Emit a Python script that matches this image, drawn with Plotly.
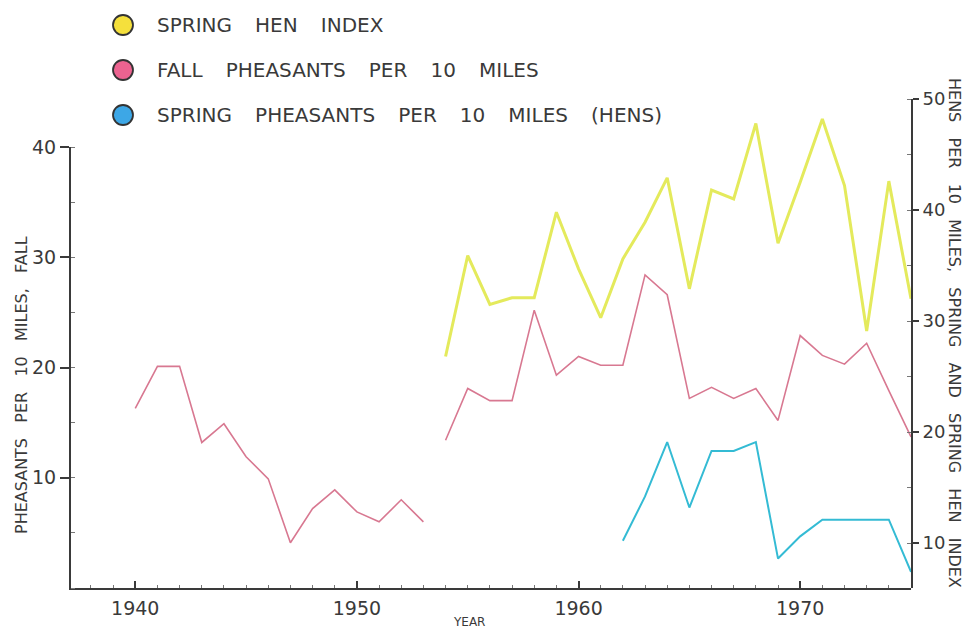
import plotly.graph_objects as go

# ---- data ----
years_fall_early = list(range(1940, 1954))
fall_early = [16.3, 20.1, 20.1, 13.2, 14.9, 11.9, 9.9, 4.1, 7.2, 8.9, 6.9, 6.0, 8.0, 6.0]

years_late = list(range(1954, 1976))
fall_late = [13.4, 18.1, 17.0, 17.0, 25.2, 19.3, 21.0, 20.2, 20.2, 28.4, 26.6,
             17.2, 18.2, 17.2, 18.1, 15.2, 22.9, 21.1, 20.3, 22.2, 17.9, 13.7]
spring_hen_index = [26.8, 35.9, 31.5, 32.1, 32.1, 39.8, 34.7, 30.3, 35.6, 38.9, 42.9,
                    32.9, 41.8, 41.0, 47.8, 37.0, 42.5, 48.2, 42.2, 29.1, 42.6, 32.0]

years_spring = list(range(1962, 1976))
spring_hens = [10.2, 14.2, 19.1, 13.2, 18.3, 18.3, 19.1, 8.6, 10.6, 12.1, 12.1, 12.1, 12.1, 7.4]

x_ticks = [1940, 1950, 1960, 1970]
left_ticks = [10, 20, 30, 40]
right_ticks = [10, 20, 30, 40, 50]

legend_labels = ["SPRING HEN INDEX", "FALL PHEASANTS PER 10 MILES",
                 "SPRING PHEASANTS PER 10 MILES (HENS)"]
legend_colors = ["#f5e03c", "#ec6390", "#3da7e6"]

INK = "#3a3a3a"
FONT = "DejaVu Sans"
YELLOW = "#e4ea5c"
PINK = "#d87891"
BLUE = "#34bbd4"
GAP = "\u00a0\u00a0\u00a0\u2009"

def spaced(s, gap=GAP):
    return s.replace(" ", gap)

fig = go.Figure()
fig.add_trace(go.Scatter(x=years_late, y=spring_hen_index, yaxis="y2", mode="lines",
                         line=dict(color=YELLOW, width=3), showlegend=False))
fig.add_trace(go.Scatter(x=years_fall_early, y=fall_early, yaxis="y", mode="lines",
                         line=dict(color=PINK, width=1.6), showlegend=False))
fig.add_trace(go.Scatter(x=years_late, y=fall_late, yaxis="y", mode="lines",
                         line=dict(color=PINK, width=1.6), showlegend=False))
fig.add_trace(go.Scatter(x=years_spring, y=spring_hens, yaxis="y2", mode="lines",
                         line=dict(color=BLUE, width=2), showlegend=False))

L, R, T, B = 71, 911, 99, 588
W, H = 972, 632
pw, ph = R - L, B - T

def px(xp):
    return (xp - L) / pw

def py(yp):
    return (B - yp) / ph

fig.update_layout(
    width=W, height=H,
    margin=dict(l=L, r=W - R, t=T, b=H - B),
    paper_bgcolor="white", plot_bgcolor="rgba(0,0,0,0)",
    showlegend=False,
    font=dict(family=FONT, color=INK, size=19),
    xaxis=dict(range=[1937.1, 1975], showgrid=False, zeroline=False,
               showline=True, linecolor=INK, linewidth=2,
               tickvals=x_ticks, ticktext=[str(v) for v in x_ticks],
               ticks="inside", ticklen=7, tickwidth=1.5, tickcolor=INK,
               ticklabelstandoff=2,
               minor=dict(ticks="inside", dtick=1, tick0=1940, ticklen=3,
                          tickwidth=1, tickcolor="#777"),
               tickfont=dict(size=19, family=FONT, color=INK), anchor="y"),
    yaxis=dict(range=[0, 40], domain=[0, py(147)], showgrid=False, zeroline=False,
               showline=True, linecolor=INK, linewidth=2,
               tickvals=left_ticks, ticks="outside", ticklen=9, tickwidth=1.5,
               tickcolor=INK, minor=dict(ticks="inside", dtick=5, tick0=0, ticklen=4,
                                         tickwidth=1, tickcolor="#777"),
               tickfont=dict(size=19, family=FONT, color=INK), anchor="x"),
    yaxis2=dict(range=[5.95, 50], domain=[0, 1], side="right", anchor="x",
                showgrid=False, zeroline=False, showline=True, linecolor=INK,
                linewidth=2, tickvals=right_ticks, ticks="outside", ticklen=6,
                tickwidth=1.5, tickcolor=INK,
                minor=dict(ticks="inside", dtick=5, tick0=0, ticklen=4,
                           tickwidth=1, tickcolor="#777"),
                tickfont=dict(size=18, family=FONT, color=INK)),
)

# legend (drawn as decorations)
rows_y = [25, 70, 115]
for lbl, col, yy in zip(legend_labels, legend_colors, rows_y):
    fig.add_shape(type="circle", xref="paper", yref="paper",
                  xsizemode="pixel", ysizemode="pixel",
                  xanchor=px(123), yanchor=py(yy), x0=-10, x1=10, y0=-10, y1=10,
                  fillcolor=col, line=dict(color="#333", width=1.8))
    fig.add_annotation(x=px(155), y=py(yy), xref="paper", yref="paper",
                       xanchor="left", yanchor="middle", showarrow=False,
                       text=spaced(lbl), font=dict(size=20, family=FONT, color=INK))

# axis titles
fig.add_annotation(x=px(21), y=py(385), xref="paper", yref="paper", showarrow=False,
                   textangle=-90, xanchor="center", yanchor="middle",
                   text=spaced("PHEASANTS PER 10 MILES, FALL", "\u00a0\u00a0\u00a0"),
                   font=dict(size=16, family=FONT, color=INK))
fig.add_annotation(x=px(955), y=py(333), xref="paper", yref="paper", showarrow=False,
                   textangle=90, xanchor="center", yanchor="middle",
                   text=spaced("HENS PER 10 MILES, SPRING AND SPRING HEN INDEX", "\u00a0\u00a0\u00a0"),
                   font=dict(size=16, family=FONT, color=INK))
fig.add_annotation(x=px(469), y=py(622), xref="paper", yref="paper", showarrow=False,
                   xanchor="center", yanchor="middle", text="YEAR",
                   font=dict(size=12, family=FONT, color=INK))

fig.write_html("out.html",
               config={"displayModeBar": False},
               post_script="document.body.style.margin='0';"
                           "document.body.style.padding='0';"
                           "document.body.style.overflow='hidden';"
                           "document.documentElement.style.overflow='hidden';")
